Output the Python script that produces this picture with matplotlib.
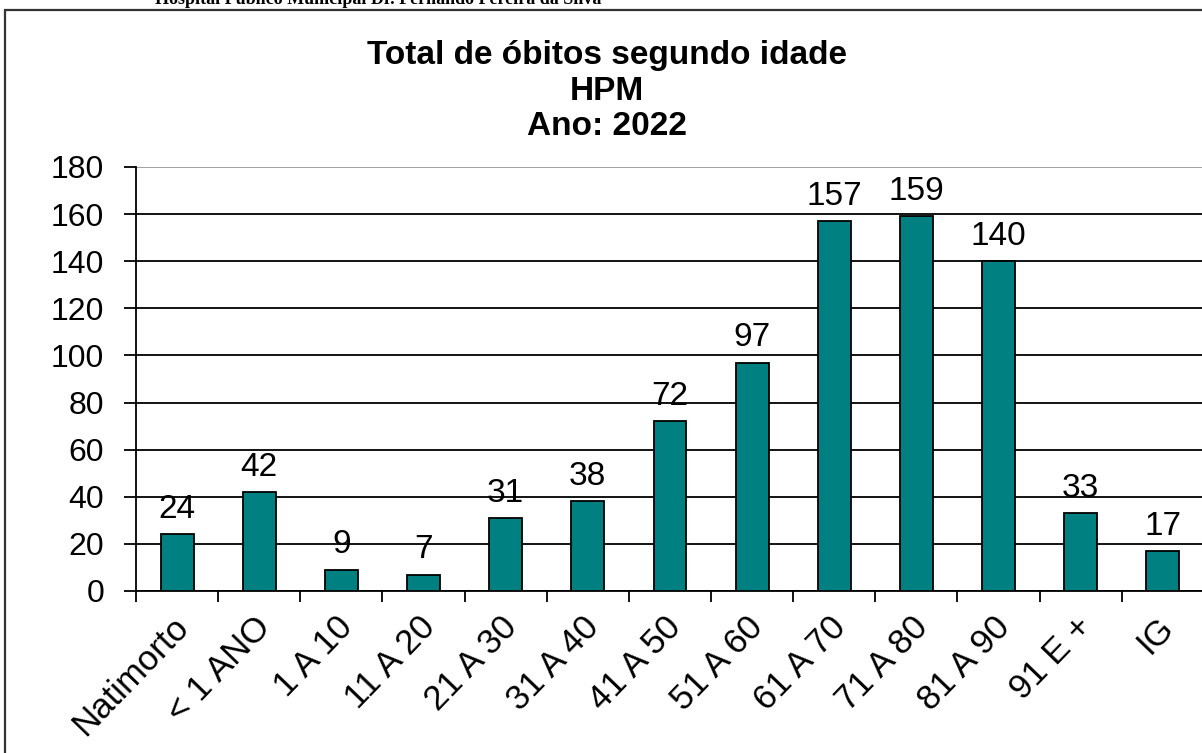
import matplotlib.pyplot as plt
import matplotlib.patches as mpatches
import numpy as np

plt.rcParams['font.family'] = ['Liberation Sans', 'DejaVu Sans']

categories = ['Natimorto', '< 1 ANO', '1 A 10', '11 A 20', '21 A 30', '31 A 40',
              '41 A 50', '51 A 60', '61 A 70', '71 A 80', '81 A 90', '91 E +', 'IG']
obitos = [24, 42, 9, 7, 31, 38, 72, 97, 157, 159, 140, 33, 17]
y_ticks = [0, 20, 40, 60, 80, 100, 120, 140, 160, 180]
titulo = 'Total de óbitos segundo idade\nHPM\nAno: 2022'
cabecalho = 'Hospital Público Municipal Dr. Fernando Pereira da Silva'

fig = plt.figure(figsize=(12.02, 7.53), dpi=100)

# chart frame
frame = mpatches.Rectangle((5 / 1202, -0.01), 1.2, 1 - 10 / 753 + 0.01,
                           transform=fig.transFigure, fill=False,
                           edgecolor='#333333', linewidth=1.6)
fig.patches.append(frame)

fig.text(0.129, 1 - 4 / 753, cabecalho, family='Liberation Serif',
         fontweight='bold', fontsize=13, ha='left', va='baseline')

ax = fig.add_axes([136 / 1202, 1 - 591 / 753, 1072 / 1202, 424 / 753])
x = np.arange(len(categories))
ax.bar(x, obitos, width=0.4, color='#008080', edgecolor='black', linewidth=1.3, zorder=3)

for xi, v in zip(x, obitos):
    ax.text(xi, v + 4, str(v), ha='center', va='bottom', fontsize=24)

ax.set_ylim(0, 180)
ax.set_xlim(-0.5, len(categories) - 0.5 + 0.05)
ax.set_yticks(y_ticks)
ax.tick_params(axis='y', labelsize=23, length=9, width=1.3, pad=14)
ax.yaxis.grid(True, color='black', linewidth=1.3, zorder=0)
ax.get_ygridlines()[-1].set_color('#999999')

ax.set_xticks(np.arange(len(categories) + 1) - 0.5)
ax.set_xticklabels([])
ax.tick_params(axis='x', which='major', length=8, width=1.3)
ax.set_xticks(x - 0.07, minor=True)
ax.set_xticklabels(categories, minor=True, rotation=46, ha='right',
                   rotation_mode='anchor', fontsize=25)
ax.tick_params(axis='x', which='minor', length=0, pad=14)

for s in ['top', 'right']:
    ax.spines[s].set_visible(False)
ax.spines['left'].set_linewidth(1.3)
ax.spines['bottom'].set_linewidth(1.3)

fig.text(0.505, 1 - 91 / 753, titulo, ha='center', va='center', fontsize=24,
         fontweight='bold', linespacing=1.17)

fig.savefig('out.png', dpi=100)
